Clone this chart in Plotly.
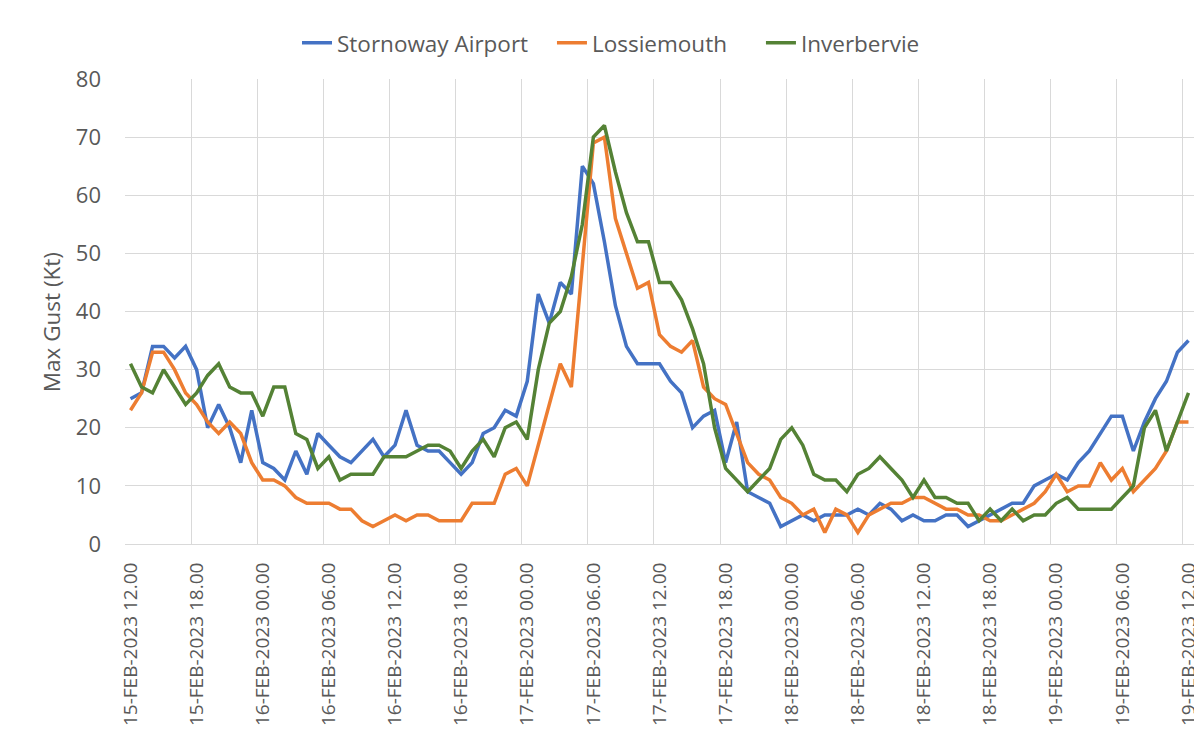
import plotly.graph_objects as go
import pandas as pd

# ---- data ----
times = pd.date_range("2023-02-15 12:00", "2023-02-19 12:00", freq="h")
time_labels = [t.strftime("%d-%b-%Y %H.%M").upper() for t in times]

stornoway = [25, 26, 34, 34, 32, 34, 30, 20, 24, 20, 14, 23, 14, 13, 11, 16, 12, 19, 17, 15,
             14, 16, 18, 15, 17, 23, 17, 16, 16, 14, 12, 14, 19, 20, 23, 22, 28, 43, 38, 45,
             43, 65, 62, 52, 41, 34, 31, 31, 31, 28, 26, 20, 22, 23, 14, 21, 9, 8, 7, 3,
             4, 5, 4, 5, 5, 5, 6, 5, 7, 6, 4, 5, 4, 4, 5, 5, 3, 4, 5, 6,
             7, 7, 10, 11, 12, 11, 14, 16, 19, 22, 22, 16, 21, 25, 28, 33, 35]
lossiemouth = [23, 26, 33, 33, 30, 26, 24, 21, 19, 21, 19, 14, 11, 11, 10, 8, 7, 7, 7, 6,
               6, 4, 3, 4, 5, 4, 5, 5, 4, 4, 4, 7, 7, 7, 12, 13, 10, 17, 24, 31,
               27, 48, 69, 70, 56, 50, 44, 45, 36, 34, 33, 35, 27, 25, 24, 19, 14, 12, 11, 8,
               7, 5, 6, 2, 6, 5, 2, 5, 6, 7, 7, 8, 8, 7, 6, 6, 5, 5, 4, 4,
               5, 6, 7, 9, 12, 9, 10, 10, 14, 11, 13, 9, 11, 13, 16, 21, 21]
inverbervie = [31, 27, 26, 30, 27, 24, 26, 29, 31, 27, 26, 26, 22, 27, 27, 19, 18, 13, 15, 11,
               12, 12, 12, 15, 15, 15, 16, 17, 17, 16, 13, 16, 18, 15, 20, 21, 18, 30, 38, 40,
               46, 55, 70, 72, 64, 57, 52, 52, 45, 45, 42, 37, 31, 20, 13, 11, 9, 11, 13, 18,
               20, 17, 12, 11, 11, 9, 12, 13, 15, 13, 11, 8, 11, 8, 8, 7, 7, 4, 6, 4,
               6, 4, 5, 5, 7, 8, 6, 6, 6, 6, 8, 10, 20, 23, 16, 21, 26]

series_names = ["Stornoway Airport", "Lossiemouth", "Inverbervie"]
series_values = [stornoway, lossiemouth, inverbervie]
colors = ["#4472C4", "#ED7D31", "#548235"]

tick_step = 6
y_title = "Max Gust (Kt)"

# ---- figure ----
xs = list(range(len(time_labels)))
legend_ids = ["legend", "legend2", "legend3"]
legend_x = [0.1609, 0.3994, 0.5949]

fig = go.Figure()
for name, vals, col, lid in zip(series_names, series_values, colors, legend_ids):
    fig.add_trace(go.Scatter(x=xs, y=vals, mode="lines", name=name, legend=lid,
                             line=dict(color=col, width=3.5)))

font_family = "Open Sans"
grey = "#595959"
grid = "#D9D9D9"

legend_common = dict(orientation="h", xanchor="left", y=1.077, yanchor="middle",
                     font=dict(size=22.5, color=grey), bgcolor="rgba(0,0,0,0)")
layout_legends = {lid: dict(x=lx, **legend_common) for lid, lx in zip(legend_ids, legend_x)}

fig.update_layout(
    width=1194, height=723,
    margin=dict(l=117, r=8, t=71, b=187),
    paper_bgcolor="white", plot_bgcolor="white",
    font=dict(family=font_family, color=grey),
    showlegend=True,
    shapes=[dict(type="rect", xref="paper", yref="paper",
                 x0=-0.1123, x1=1.0028, y0=-0.415, y1=1.1548,
                 line=dict(color=grid, width=1), fillcolor="rgba(0,0,0,0)", layer="below")],
    annotations=[dict(text=y_title, xref="paper", yref="paper", x=-0.0692, y=0.477,
                      xanchor="center", yanchor="middle", textangle=-90, showarrow=False,
                      font=dict(size=22.5, color=grey, family=font_family))],
    **layout_legends,
)
fig.update_xaxes(
    range=[-0.5, len(xs) - 0.5], automargin=False,
    tickmode="array", tickvals=xs[::tick_step], ticktext=time_labels[::tick_step],
    tickangle=-90, tickfont=dict(size=19, color=grey),
    showgrid=False, zeroline=False,
    showline=True, linecolor=grid, linewidth=1,
    ticks="", ticklabelstandoff=10,
    minor=dict(tick0=-0.5, dtick=tick_step, showgrid=True, gridcolor=grid, gridwidth=1, ticks=""),
)
fig.update_yaxes(
    range=[0, 80], dtick=10, tick0=0, automargin=False,
    tickfont=dict(size=22, color=grey),
    showgrid=True, gridcolor=grid, gridwidth=1,
    zeroline=False, showline=False, ticks="",
    ticklabelstandoff=23,
)

fig.write_html("out.html")
